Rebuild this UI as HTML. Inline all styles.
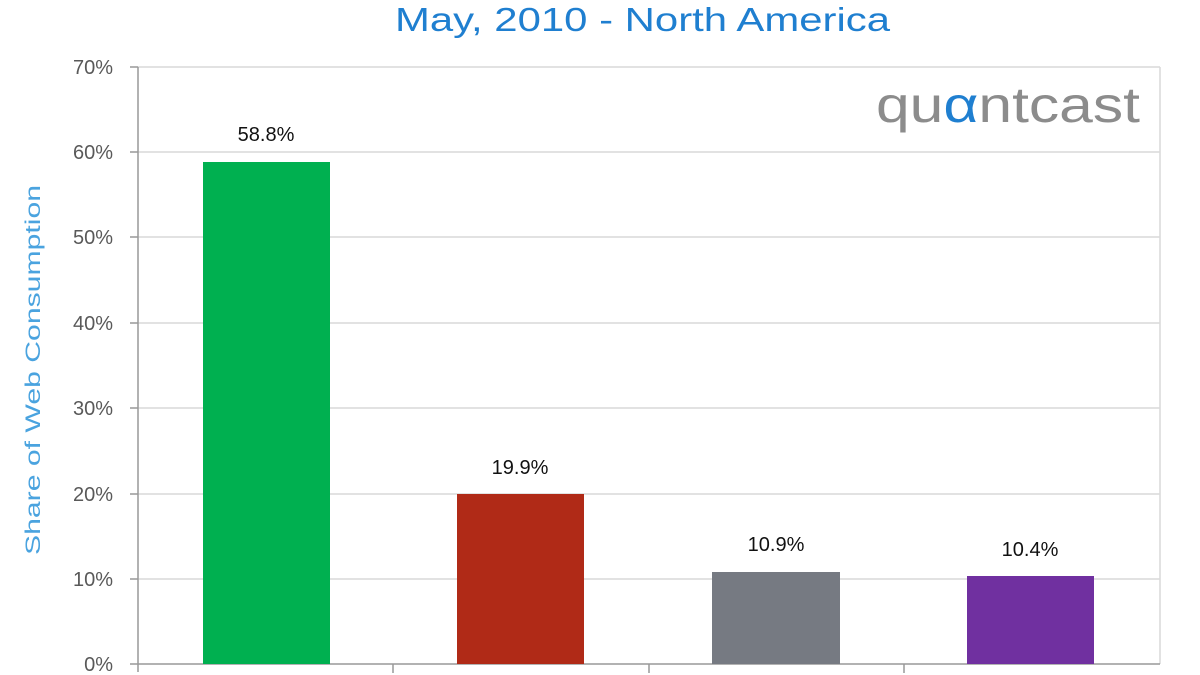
<!DOCTYPE html>
<html><head><meta charset="utf-8"><style>
html,body{margin:0;padding:0;background:#fff;}
svg{display:block;}
text{font-family:"Liberation Sans",sans-serif;}
</style></head><body>
<svg width="1200" height="675" viewBox="0 0 1200 675" xmlns="http://www.w3.org/2000/svg">
<rect width="1200" height="675" fill="#fff"/>
<text x="395" y="31" font-size="33" fill="#1f7fd0" textLength="495" lengthAdjust="spacingAndGlyphs">May, 2010 - North America</text>
<g stroke="#d9d9d9" stroke-width="1.5">
<line x1="138" y1="67" x2="1160" y2="67"/>
<line x1="138" y1="152" x2="1160" y2="152"/>
<line x1="138" y1="237" x2="1160" y2="237"/>
<line x1="138" y1="323" x2="1160" y2="323"/>
<line x1="138" y1="408" x2="1160" y2="408"/>
<line x1="138" y1="494" x2="1160" y2="494"/>
<line x1="138" y1="579" x2="1160" y2="579"/>
<line x1="1160" y1="67" x2="1160" y2="664"/>
</g>
<g stroke="#999" stroke-width="1.5">
<line x1="138" y1="67" x2="138" y2="672"/>
<line x1="130" y1="664" x2="1160" y2="664"/>
<line x1="130" y1="67" x2="138" y2="67"/><line x1="130" y1="152" x2="138" y2="152"/>
<line x1="130" y1="237" x2="138" y2="237"/><line x1="130" y1="323" x2="138" y2="323"/>
<line x1="130" y1="408" x2="138" y2="408"/><line x1="130" y1="494" x2="138" y2="494"/>
<line x1="130" y1="579" x2="138" y2="579"/>
<line x1="393" y1="664" x2="393" y2="673"/><line x1="649" y1="664" x2="649" y2="673"/>
<line x1="904" y1="664" x2="904" y2="673"/>
</g>
<g font-size="20" fill="#595959" text-anchor="end">
<text x="113" y="74">70%</text><text x="113" y="159">60%</text><text x="113" y="244">50%</text>
<text x="113" y="330">40%</text><text x="113" y="415">30%</text><text x="113" y="501">20%</text>
<text x="113" y="586">10%</text><text x="113" y="671">0%</text>
</g>
<text transform="translate(40,370) rotate(-90)" font-size="21" fill="#4aa3df" text-anchor="middle" textLength="370" lengthAdjust="spacingAndGlyphs">Share of Web Consumption</text>
<rect x="203" y="162" width="127" height="502" fill="#00b050"/>
<rect x="457" y="494" width="127" height="170" fill="#b02a17"/>
<rect x="712" y="572" width="128" height="92" fill="#767a82"/>
<rect x="967" y="576" width="127" height="88" fill="#7030a0"/>
<g font-size="20" fill="#111" text-anchor="middle">
<text x="266" y="141">58.8%</text><text x="520" y="474">19.9%</text>
<text x="776" y="551">10.9%</text><text x="1030" y="556">10.4%</text>
</g>
<text x="876" y="122" font-size="50" fill="#8c8c8c" textLength="264" lengthAdjust="spacingAndGlyphs">qu<tspan fill="#1f7fd0">α</tspan>ntcast</text>
</svg>
</body></html>
